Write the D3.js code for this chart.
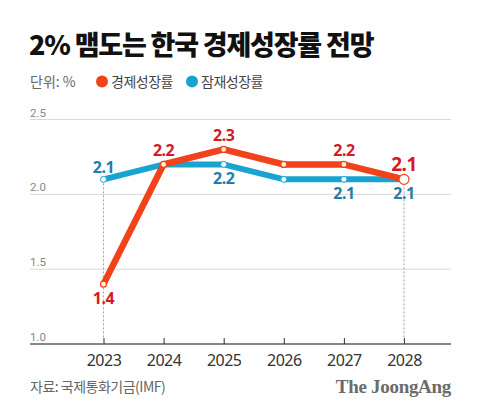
<!DOCTYPE html>
<html><head><meta charset="utf-8">
<script src="https://cdn.jsdelivr.net/npm/d3@7"></script>
<style>
body{margin:0;background:#fff;}
svg{display:block;font-family:"Noto Sans CJK KR","Noto Sans",sans-serif;}
</style></head>
<body><svg id="c" width="480" height="417"></svg>
<script>
const years = ["2023","2024","2025","2026","2027","2028"];
const gdpGrowth = [1.4, 2.2, 2.3, 2.2, 2.2, 2.1];
const potentialGrowth = [2.1, 2.2, 2.2, 2.1, 2.1, 2.1];
const yTicks = [1.0, 1.5, 2.0, 2.5];
const gdpLabelPos = ["below","above","above",null,"above","above"];
const potLabelPos = ["above",null,"below",null,"below","below"];
const seriesNames = ["경제성장률","잠재성장률"];

const RED = "#f2421b", BLUE = "#19a3d1", RED_T = "#d31a22", BLUE_T = "#1f7eab";
const svg = d3.select("#c");
const x = d3.scalePoint().domain(years).range([103.5, 404]);
const y = d3.scaleLinear().domain([1.0, 2.5]).range([344, 119.5]);

// Title
svg.append("text").attr("x",29).attr("y",55).attr("font-size",27).attr("font-weight",900)
  .attr("letter-spacing",-1.2).attr("fill","#111").text("2% 맴도는 한국 경제성장률 전망");
// Unit + legend
svg.append("text").attr("x",30).attr("y",87).attr("font-size",14).attr("fill","#666").text("단위: %");
const leg = svg.append("g");
[[RED,102,111],[BLUE,192,201]].forEach((d,i)=>{
  leg.append("circle").attr("cx",d[1]).attr("cy",81.5).attr("r",6).attr("fill",d[0]);
  leg.append("text").attr("x",d[2]).attr("y",87).attr("font-size",14).attr("letter-spacing",-0.5)
    .attr("fill","#444").text(seriesNames[i]);
});

// Grid
svg.append("g").selectAll("line").data(yTicks.filter(t=>t>1.0)).join("line")
  .attr("x1",30).attr("x2",451).attr("y1",d=>y(d)).attr("y2",d=>y(d))
  .attr("stroke","#d9d9d9").attr("stroke-width",1);
svg.append("g").selectAll("text").data(yTicks).join("text")
  .attr("x",30).attr("y",d=>y(d)-3).attr("font-size",11.5).attr("fill","#888")
  .attr("font-family","Roboto, 'Noto Sans', sans-serif").text(d=>d.toFixed(1));

// X axis
const xAxis = d3.axisBottom(x).tickSize(-6).tickPadding(12).tickFormat(d=>d);
const gx = svg.append("g").attr("transform",`translate(0,${y(1.0)})`).call(xAxis);
gx.select(".domain").remove();
gx.selectAll(".tick line").attr("stroke","#333");
gx.selectAll(".tick text").attr("font-size",16).attr("fill","#333").attr("letter-spacing",-0.5)
  .attr("font-family","'Noto Sans','Noto Sans CJK KR',sans-serif").attr("dy","0.6em");
svg.append("line").attr("x1",30).attr("x2",451).attr("y1",y(1.0)).attr("y2",y(1.0))
  .attr("stroke","#111").attr("stroke-width",1.2);

// dotted verticals at first and last year
[0,5].forEach(i=>{
  svg.append("line").attr("x1",x(years[i])).attr("x2",x(years[i]))
    .attr("y1",y(Math.max(gdpGrowth[i],potentialGrowth[i]))).attr("y2",y(1.0))
    .attr("stroke","#888").attr("stroke-width",0.8).attr("stroke-dasharray","2,2");
});

const line = d3.line().x((d,i)=>x(years[i])).y(d=>y(d));
svg.append("path").datum(potentialGrowth).attr("d",line).attr("fill","none")
  .attr("stroke",BLUE).attr("stroke-width",6);
svg.append("path").datum(gdpGrowth).attr("d",line).attr("fill","none")
  .attr("stroke",RED).attr("stroke-width",6.5);

// markers
svg.append("g").selectAll("circle").data(potentialGrowth).join("circle")
  .attr("cx",(d,i)=>x(years[i])).attr("cy",d=>y(d)).attr("r",3)
  .attr("fill","#fff").attr("stroke",BLUE).attr("stroke-width",1);
svg.append("g").selectAll("circle").data(gdpGrowth).join("circle")
  .attr("cx",(d,i)=>x(years[i])).attr("cy",d=>y(d)).attr("r",(d,i)=>i===5?5:3)
  .attr("fill",(d,i)=>i===5?"#fff":"#fff3d0").attr("stroke",RED).attr("stroke-width",1.2);

// labels
function labels(data,pos,color,aboveOff,belowOff){
  svg.append("g").selectAll("text").data(data.map((v,i)=>({v,i,p:pos[i]})).filter(d=>d.p)).join("text")
    .attr("x",d=>x(years[d.i])).attr("y",d=>y(d.v)+(d.p==="above"?aboveOff:belowOff))
    .attr("text-anchor","middle").attr("font-size",d=>(color===RED_T&&d.i===5)?19:16)
    .attr("font-weight",700).attr("fill",color).attr("letter-spacing",-0.5)
    .attr("font-family","'Noto Sans','Noto Sans CJK KR',sans-serif")
    .text(d=>d.v.toFixed(1));
}
labels(gdpGrowth,gdpLabelPos,RED_T,-8,20);
labels(potentialGrowth,potLabelPos,BLUE_T,-6,20);

// footer
svg.append("text").attr("x",30).attr("y",392).attr("font-size",14).attr("fill","#666")
  .attr("letter-spacing",-0.5).text("자료: 국제통화기금(IMF)");
svg.append("text").attr("x",451).attr("y",393).attr("text-anchor","end").attr("font-size",19)
  .attr("font-weight",700).attr("fill","#6b6b6b").attr("letter-spacing",-0.3)
  .attr("font-family","'Liberation Serif','DejaVu Serif',serif").text("The JoongAng");
</script></body></html>
